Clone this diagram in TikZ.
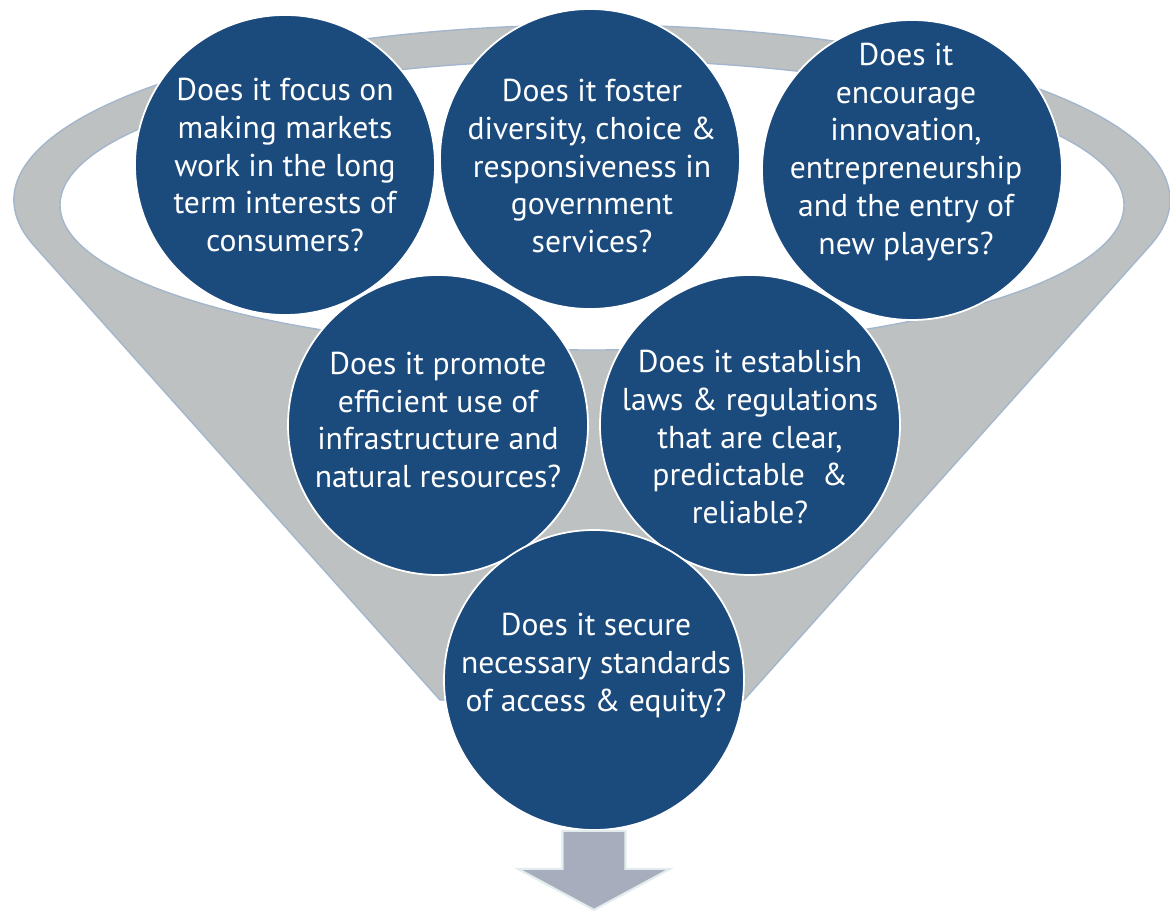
\documentclass[tikz,border=0pt]{standalone}
\usepackage{fontspec}
\setmainfont{PT Sans}
\usepackage{tikz}

\definecolor{qblue}{HTML}{1B4A7C}
\definecolor{funnelgray}{HTML}{BEC1C1}
\definecolor{funnelline}{HTML}{A3B6CC}
\definecolor{arrowgray}{HTML}{A8ADBE}
\definecolor{arrowline}{HTML}{E2ECEC}

\newcommand{\questionfont}{\fontsize{18}{21.6}\selectfont}

\tikzset{
    question/.style={circle, draw=white, line width=1pt, fill=qblue,
        minimum size=6cm, inner sep=0pt},
    qtext/.style={text=white, align=center, font=\questionfont},
    funnel/.style={fill=funnelgray, draw=funnelline, line width=0.8pt},
    outarrow/.style={fill=arrowgray, draw=arrowline, line width=1.2pt}
}

\begin{document}
\begin{tikzpicture}

\useasboundingbox (0,0) rectangle (23.4,-18.22);

% Funnel: cone with the top rim
\filldraw[funnel] (8.8,-14.0)
    -- ([shift={(195:11.56 and 3.5)}]11.84,-4.0)
    arc[start angle=195, end angle=-15, x radius=11.56, y radius=3.5]
    -- (14.88,-14.0) -- cycle;

% Opening of the funnel
\filldraw[fill=white, draw=funnelline, line width=0.8pt] (11.84,-4.1) ellipse [x radius=10.64, y radius=2.9];

% Top row of questions
\node[question] (focus) at (5.70,-3.30) {};
\node[qtext] (focus-text) at (5.70,-3.30) {Does it focus on\\making markets\\work in the long\\term interests of\\consumers?};

\node[question] (foster) at (11.80,-3.18) {};
\node[qtext] (foster-text) at (11.84,-3.32) {Does it foster\\diversity, choice \&\\responsiveness in\\government\\services?};

\node[question] (innov) at (18.24,-3.40) {};
\node[qtext] (innov-text) at (18.12,-3.04) {Does it\\encourage\\innovation,\\entrepreneurship\\and the entry of\\new players?};

% Middle row
\node[question] (promote) at (8.76,-8.50) {};
\node[qtext] (promote-text) at (8.76,-8.40) {Does it promote\\efficient use of\\infrastructure and\\natural resources?};

\node[question] (establish) at (15.00,-8.50) {};
\node[qtext] (establish-text) at (15.00,-8.74) {Does it establish\\laws \& regulations\\that are clear,\\predictable~ \&\\reliable?};

% Bottom of the funnel
\node[question] (secure) at (11.88,-13.60) {};
\node[qtext] (secure-text) at (11.92,-13.32) {Does it secure\\necessary standards\\of access \& equity?};

% Output arrow
\filldraw[outarrow] ([xshift=-6.3mm]secure.south) -- ++(1.26,0) -- ++(0,-0.76)
    -- ++(0.89,0) -- ++(-1.52,-0.82) -- ++(-1.52,0.82) -- ++(0.89,0) -- cycle;

\end{tikzpicture}
\end{document}
